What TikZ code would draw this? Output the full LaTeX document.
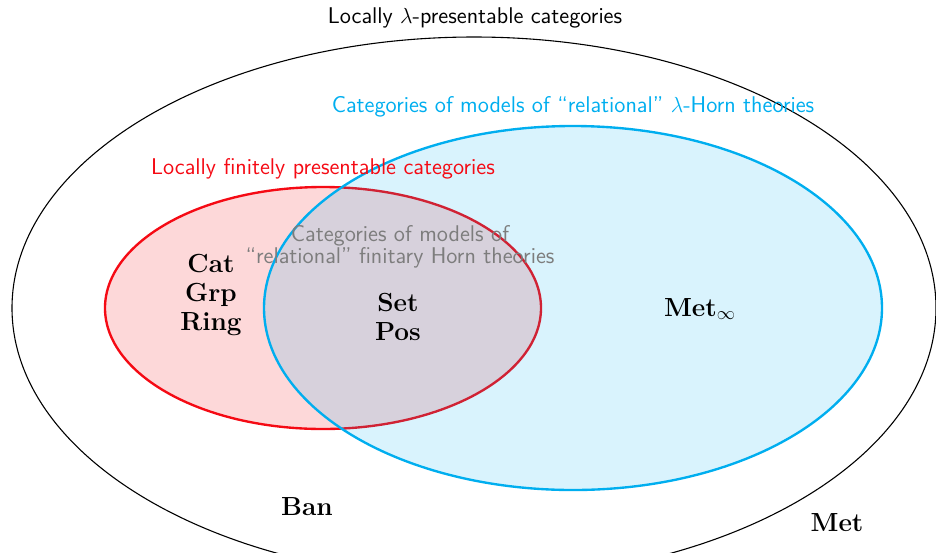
\documentclass[tikz,border=0pt]{standalone}
\usepackage{tikz}
\usetikzlibrary{positioning}
\definecolor{myred}{RGB}{245,10,20}
\definecolor{mycyan}{RGB}{0,174,239}
\definecolor{mygray}{RGB}{125,125,125}
\tikzstyle{label}=[font=\sffamily\fontsize{12.5}{10.5}\selectfont,inner sep=1pt]
\tikzstyle{cat}=[font=\fontsize{14.4}{16}\selectfont\bfseries,align=center,inner sep=1pt]

\begin{document}
\begin{tikzpicture}[x=0.55pt,y=-0.55pt,thick]
\useasboundingbox (0,0) rectangle (936,552);
\clip (0,0) rectangle (936,552);
% outer ellipse
\draw[semithick] (474,308) ellipse [x radius=462, y radius=271];
% finitely presentable
\draw[myred,fill=myred!16,line width=1.3pt] (323,308) ellipse [x radius=218, y radius=121];
% relational Horn
\draw[mycyan,fill=mycyan,fill opacity=0.15,line width=1.3pt] (573,308) ellipse [x radius=309, y radius=182];
\node[label] (lp) at (475,18) {Locally $\lambda$-presentable categories};
\node[label,text=mycyan] (horn) at (573,107) {Categories of models of ``relational'' $\lambda$-Horn theories};
\node[label,text=myred] (lfp) at (323,169) {Locally finitely presentable categories};
\node[label,text=mygray,align=center] (fhorn) at (400,247) {Categories of models of\\``relational'' finitary Horn theories};
\node[cat] (cgr) at (211,295) {Cat\\Grp\\Ring};
\node[cat] (sp) at (398,317) {Set\\Pos};
\node[cat] (metinf) at (700,309) {$\mathbf{Met}_\infty$};
\node[cat] (ban) at (307,507) {Ban};
\node[cat] (met) at (837,523) {Met};
\end{tikzpicture}
\end{document}
